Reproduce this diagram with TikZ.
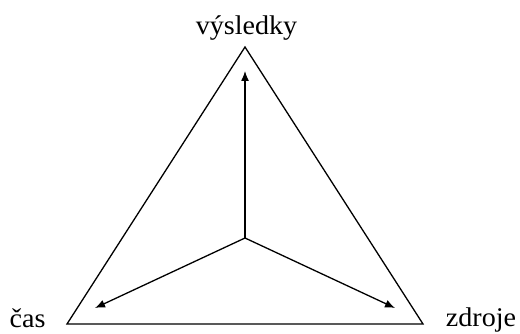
\documentclass[tikz,border=0pt]{standalone}
\usepackage{fontspec}
\setmainfont{Liberation Serif}
\usetikzlibrary{arrows.meta}
\begin{document}
\begin{tikzpicture}[x=1pt,y=-1pt,
  edge/.style={line width=1.3pt, line join=miter},
  arr/.style={line width=1.3pt,-{Latex[length=10pt,width=8pt]}},
  lbl/.style={font=\fontsize{27}{32}\selectfont, inner sep=0pt, anchor=base, xscale=1.04}]
\useasboundingbox (0,0) rectangle (520,334);
\coordinate (T) at (245,47);
\coordinate (L) at (67,324);
\coordinate (R) at (423,324);
\draw[edge] (T) -- (L) -- (R) -- cycle;
\coordinate (C) at (245,238);
\coordinate (tT) at (245,71);
\coordinate (tL) at (95,308);
\coordinate (tR) at (395,308);
\draw[arr] (C) -- (tT);
\draw[arr] (C) -- (tL);
\draw[arr] (C) -- (tR);
\node[lbl] (vys) at (246.5,35) {výsledky};
\node[lbl] (cas) at (27.5,327) {čas};
\node[lbl] (zdr) at (481,326) {zdroje};
\end{tikzpicture}
\end{document}
